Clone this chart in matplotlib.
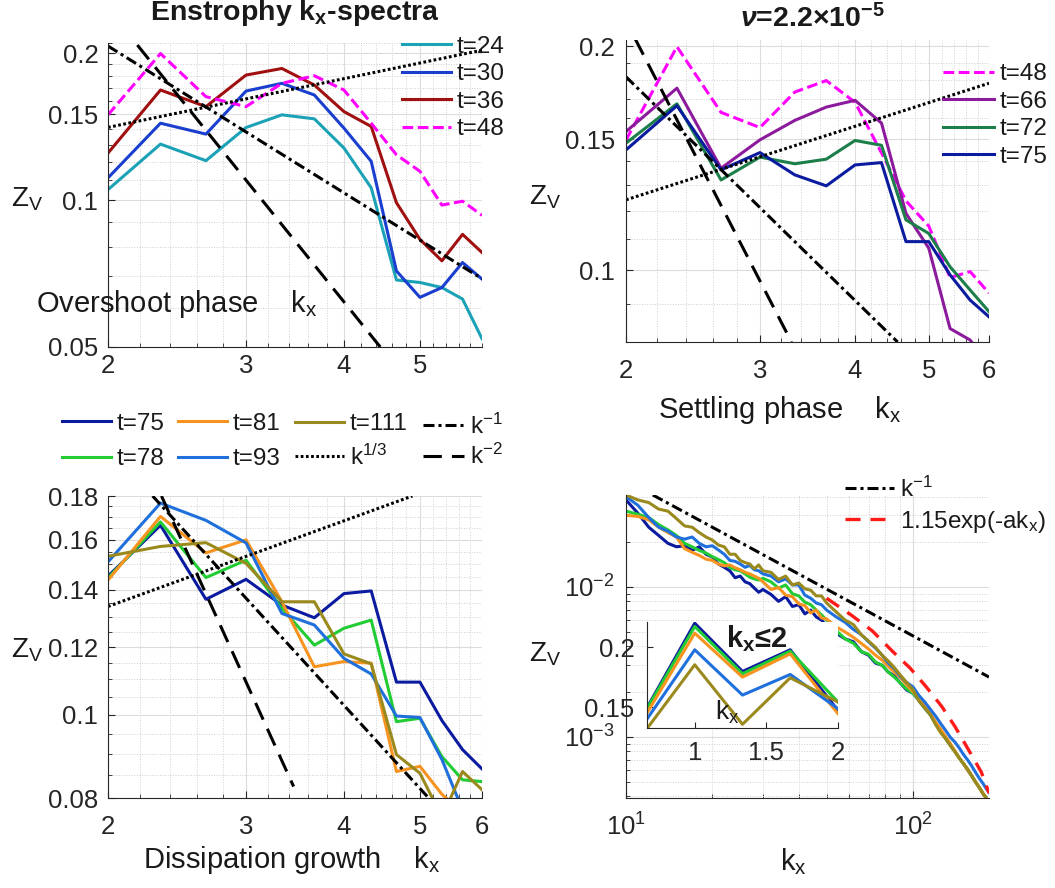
import matplotlib
matplotlib.use("Agg")
import matplotlib.pyplot as plt
from matplotlib.ticker import NullFormatter
import numpy as np

plt.rcParams["font.family"] = ["Liberation Sans", "DejaVu Sans"]
plt.rcParams["mathtext.fontset"] = "custom"
plt.rcParams["mathtext.rm"] = "Liberation Sans"
plt.rcParams["mathtext.it"] = "Liberation Sans:italic:bold"
plt.rcParams["mathtext.bf"] = "Liberation Sans:bold"
plt.rcParams["text.color"] = "#1a1a1a"

# ---------------- data ----------------
# low-k part of the spectra, k_x = n/3
kx = [2, 7/3, 8/3, 3, 10/3, 11/3, 4, 13/3, 14/3, 5, 16/3, 17/3, 6]

# overshoot phase
z_t24 = [0.1051, 0.1303, 0.1205, 0.1409, 0.1496, 0.1468, 0.1279, 0.106, 0.0686, 0.0678, 0.0662, 0.0627, 0.0520]
z_t30 = [0.1111, 0.1438, 0.1366, 0.1674, 0.1736, 0.1643, 0.1405, 0.1201, 0.0716, 0.0632, 0.0662, 0.0745, 0.0689]
z_t36 = [0.1249, 0.1682, 0.1555, 0.1805, 0.1862, 0.1722, 0.1519, 0.1416, 0.0988, 0.0831, 0.0751, 0.0851, 0.0781]
z_t48 = [0.1496, 0.1998, 0.1630, 0.1555, 0.1736, 0.1799, 0.1682, 0.1438, 0.1239, 0.1146, 0.0977, 0.0995, 0.0931]
# settling phase
z_t66 = [0.1536, 0.1757, 0.1371, 0.1497, 0.1590, 0.1657, 0.1692, 0.1577, 0.1192, 0.1070, 0.0834, 0.0805, 0.0745]
z_t72 = [0.1482, 0.1674, 0.1322, 0.1419, 0.1390, 0.1410, 0.1494, 0.1472, 0.1168, 0.1120, 0.1010, 0.0940, 0.0879]
z_t75 = [0.1451, 0.1664, 0.1364, 0.1439, 0.1343, 0.1298, 0.1385, 0.1395, 0.1092, 0.1092, 0.0985, 0.0911, 0.0865]
# dissipation growth
z_t78 = [0.1444, 0.1679, 0.1446, 0.1515, 0.1331, 0.1206, 0.1262, 0.1290, 0.0982, 0.0991, 0.0894, 0.0840, 0.0836]
z_t81 = [0.1436, 0.1704, 0.1545, 0.1600, 0.1355, 0.1138, 0.1154, 0.1149, 0.0859, 0.0871, 0.0808, 0.0770, 0.0750]
z_t93 = [0.1508, 0.1766, 0.1686, 0.1587, 0.1313, 0.1273, 0.1164, 0.1116, 0.0997, 0.0993, 0.0887, 0.0775, 0.0740]
z_t111 = [0.1531, 0.1572, 0.1588, 0.1502, 0.1355, 0.1355, 0.1178, 0.1147, 0.0899, 0.0855, 0.0760, 0.0859, 0.0818]

# full spectra (values in units of 1e-3)
k_full = [10, 11, 12, 13, 14, 15, 16, 17, 18, 19, 20, 21, 22, 23, 24, 25, 26, 27, 28, 29, 30,
          32, 34, 36, 38, 40, 42, 44, 46, 48, 50,
          54, 58, 62, 66, 70, 74, 78, 82, 86, 90,
          95, 100, 105, 110, 115, 120, 125, 130, 135, 140, 145, 150, 155, 160, 165, 170, 175, 180, 185]
zf_t75 = [38, 31, 25, 22, 19.5, 18.5, 18.8, 17.5, 18.5, 16.5, 15.8, 14.2, 13.5, 12.8, 11.5, 11.8, 10.8, 10.5, 9.8, 9.2, 9.6,
          8.9, 8.0, 8.6, 7.4, 7.6, 6.6, 7.0, 6.3, 6.0, 5.5,
          4.9, 4.5, 4.3, 3.7, 3.5, 3.1, 3.0, 2.7, 2.55, 2.3,
          2.05, 1.95, 1.75, 1.55, 1.4, 1.22, 1.1, 0.97, 0.88, 0.8, 0.72, 0.66, 0.6, 0.55, 0.5, 0.46, 0.42, 0.39, 0.36]
zf_t78 = [32, 30.5, 29, 26, 24, 22, 19.5, 18.5, 17.5, 16.8, 15.9, 15.2, 14.5, 13.5, 13, 12.8, 12.2, 11.6, 11.3, 11.1, 11.4,
          10.8, 9.8, 10.3, 9.0, 8.7, 7.9, 7.6, 7.0, 6.5, 6.0,
          5.1, 4.5, 4.2, 3.7, 3.55, 3.15, 3.0, 2.7, 2.5, 2.3,
          2.08, 1.95, 1.75, 1.55, 1.4, 1.22, 1.1, 0.97, 0.88, 0.8, 0.72, 0.66, 0.6, 0.55, 0.5, 0.46, 0.42, 0.39, 0.36]
zf_t81 = [30, 29.5, 28, 25, 23, 21.5, 18, 17, 16.2, 15.3, 15, 14.2, 13.8, 14, 13.4, 13, 12.5, 12.2, 11.8, 11.4, 10.8,
          9.6, 9.9, 8.8, 8.6, 7.7, 7.5, 6.7, 7.0, 6.2, 6.1,
          5.4, 5.0, 4.6, 4.2, 3.85, 3.5, 3.25, 2.95, 2.7, 2.5,
          2.22, 2.0, 1.8, 1.6, 1.42, 1.25, 1.12, 1.0, 0.9, 0.8, 0.72, 0.66, 0.6, 0.55, 0.5, 0.46, 0.42, 0.39, 0.36]
zf_t93 = [40, 35, 29, 25, 23.5, 21.5, 20.8, 21.5, 19.5, 18.5, 18.8, 17.6, 16.5, 15, 14.8, 14.2, 13.5, 13.9, 13.0, 12.8, 12.2,
          11.8, 10.8, 11.3, 10.3, 10.3, 8.8, 8.4, 7.8, 7.6, 7.0,
          6.3, 5.8, 5.2, 4.8, 4.3, 3.9, 3.5, 3.1, 2.85, 2.55,
          2.3, 2.15, 1.88, 1.7, 1.52, 1.37, 1.22, 1.1, 0.99, 0.92, 0.84, 0.76, 0.7, 0.64, 0.58, 0.53, 0.49, 0.45, 0.42]
zf_t111 = [41, 38, 36.5, 33, 32, 28.5, 25.5, 25, 23, 21.5, 20.5, 19, 18.5, 16.5, 16.5, 15, 14.5, 14.2, 13.2, 14, 12.8,
           12.5, 11.2, 11.8, 10.3, 10.6, 9.7, 9.5, 8.7, 8.7, 7.8,
           6.8, 6.0, 5.6, 4.8, 4.35, 3.95, 3.5, 3.2, 2.9, 2.6,
           2.3, 2.06, 1.72, 1.55, 1.4, 1.2, 1.06, 0.97, 0.87, 0.79, 0.72, 0.66, 0.61, 0.55, 0.5, 0.46, 0.42, 0.39, 0.35]

# inset, k_x <= 2
k_in = [2/3, 1, 4/3, 5/3, 2]
zi_t75 = [0.1494, 0.2200, 0.1797, 0.1978, 0.1472]
zi_t78 = [0.1486, 0.2172, 0.1778, 0.1967, 0.1542]
zi_t81 = [0.1450, 0.2117, 0.1750, 0.1944, 0.1444]
zi_t93 = [0.1400, 0.1978, 0.1600, 0.1772, 0.1486]
zi_t111 = [0.1320, 0.1853, 0.1356, 0.1744, 0.1542]

# reference slopes (end points)
tl_m1 = ([2, 6], [0.207, 0.069])
tl_m2 = ([2.18, 4.45], [0.208, 0.05])
tl_p13 = ([2, 6], [0.141, 0.203])
tr_m1 = ([2, 4.55], [0.182, 0.08])
tr_m2 = ([2.055, 3.30], [0.205, 0.08])
tr_p13 = ([2, 6], [0.1243, 0.1784])
bl_m1 = ([2.28, 5.13], [0.18, 0.08])
bl_m2 = ([2.34, 3.45], [0.18, 0.0825])
bl_p13 = ([2, 4.89], [0.1338, 0.18])
br_m1 = ([12.4, 184], [0.041, 0.0025])
exp_k = [50, 60.8, 72, 85, 97.7, 111, 126, 140, 156, 173, 184]
exp_z = [8.4e-3, 6.5e-3, 5.1e-3, 3.7e-3, 2.87e-3, 2.16e-3, 1.59e-3, 1.17e-3, 0.82e-3, 0.58e-3, 0.42e-3]

# ---------------- styles ----------------
C = {"t24": "#1ca2b6", "t30": "#1a3fcf", "t36": "#a01010", "t48": "#ff00ff",
     "t66": "#8c1a9c", "t72": "#1c7f4a", "t75": "#0b1ba0", "t78": "#22cc33",
     "t81": "#f7931e", "t93": "#1f70dc", "t111": "#9a8a1e"}
LW = 2.2
DASHDOT = dict(color="k", lw=LW, dashes=(3.6, 1.3, 1, 1.3))
DASHED = dict(color="k", lw=LW, dashes=(6, 3.3))
DOTTED = dict(color="k", lw=LW, dashes=(0.9, 0.8))
MAG = dict(color=C["t48"], lw=LW, dashes=(3.5, 1.5))
FS = 18.5
LFS = 17.5

W, H = 1055, 888
fig = plt.figure(figsize=(W / 100, H / 100), dpi=100)


def px_axes(l, t, r, b):
    return fig.add_axes([l / W, 1 - b / H, (r - l) / W, (b - t) / H])


def setup(ax, xlim, ylim, xt, xtl, yt, ytl, xminor=None, yminor=None, xpad=6, ypad=7):
    ax.set_xscale("log")
    ax.set_yscale("log")
    ax.set_xlim(xlim)
    ax.set_ylim(ylim)
    ax.set_xticks(xt, labels=xtl)
    ax.set_yticks(yt, labels=ytl)
    if xminor is not None:
        ax.set_xticks(xminor, minor=True)
    if yminor is not None:
        ax.set_yticks(yminor, minor=True)
    ax.xaxis.set_minor_formatter(NullFormatter())
    ax.yaxis.set_minor_formatter(NullFormatter())
    ax.grid(which="major", color="#dcdcdc", lw=0.8)
    ax.grid(which="minor", color="#cfcfcf", lw=0.7, ls=":")
    ax.set_axisbelow(True)
    for s in ["top", "right"]:
        ax.spines[s].set_visible(False)
    for s in ["left", "bottom"]:
        ax.spines[s].set_color("#262626")
        ax.spines[s].set_linewidth(0.8)
    ax.tick_params(which="both", direction="in", colors="#262626", labelsize=FS)
    ax.tick_params(which="major", length=5)
    ax.tick_params(which="minor", length=3)
    ax.tick_params(axis="x", pad=xpad)
    ax.tick_params(axis="y", pad=ypad)


def legend(handles, labels, x, y, hl=2.0, ls=0.22):
    fig.legend(handles, labels, loc="center left", bbox_to_anchor=(x / W, 1 - y / H),
               frameon=False, borderpad=0, borderaxespad=0, fontsize=LFS,
               handlelength=hl, handletextpad=0.25, labelspacing=ls)


def ftext(x, y, s, **kw):
    fig.text(x / W, 1 - y / H, s, fontsize=kw.pop("fontsize", 21), **kw)


xminor = np.arange(2, 6.01, 0.2)
ZV = r"Z$_{\mathregular{V}}$"
KX = r"k$_{\mathregular{x}}$"

# ---- top left: overshoot phase ----
ax1 = px_axes(108, 43, 482, 347)
h24, = ax1.plot(kx, z_t24, color=C["t24"], lw=LW)
h30, = ax1.plot(kx, z_t30, color=C["t30"], lw=LW)
h36, = ax1.plot(kx, z_t36, color=C["t36"], lw=LW)
h48, = ax1.plot(kx, z_t48, **MAG)
ax1.plot(*tl_m1, **DASHDOT)
ax1.plot(*tl_m2, **DASHED)
ax1.plot(*tl_p13, **DOTTED)
setup(ax1, (2, 6), (0.05, 0.208), [2, 3, 4, 5], ["2", "3", "4", "5"],
      [0.05, 0.1, 0.15, 0.2], ["0.05", "0.1", "0.15", "0.2"],
      xminor, np.arange(0.05, 0.211, 0.01), xpad=5)
legend([h24, h30, h36, h48], ["t=24", "t=30", "t=36", "t=48"], 402, 88)

# ---- top right: settling phase ----
ax2 = px_axes(626, 40, 989, 342)
g48, = ax2.plot(kx, z_t48, **MAG)
g66, = ax2.plot(kx, z_t66, color=C["t66"], lw=LW)
g72, = ax2.plot(kx, z_t72, color=C["t72"], lw=LW)
g75, = ax2.plot(kx, z_t75, color=C["t75"], lw=LW)
ax2.plot(*tr_m1, **DASHDOT)
ax2.plot(*tr_m2, **DASHED)
ax2.plot(*tr_p13, **DOTTED)
setup(ax2, (2, 6), (0.08, 0.204), [2, 3, 4, 5, 6], ["2", "3", "4", "5", "6"],
      [0.1, 0.15, 0.2], ["0.1", "0.15", "0.2"],
      xminor, np.arange(0.08, 0.205, 0.01), xpad=12, ypad=8)
legend([g48, g66, g72, g75], ["t=48", "t=66", "t=72", "t=75"], 943, 115.5, hl=2.1)

# ---- bottom left: dissipation growth ----
ax3 = px_axes(108, 496, 482, 798)
b75, = ax3.plot(kx, z_t75, color=C["t75"], lw=LW)
b78, = ax3.plot(kx, z_t78, color=C["t78"], lw=LW)
b81, = ax3.plot(kx, z_t81, color=C["t81"], lw=LW)
b93, = ax3.plot(kx, z_t93, color=C["t93"], lw=LW)
b111, = ax3.plot(kx, z_t111, color=C["t111"], lw=LW)
r1, = ax3.plot(*bl_m1, **DASHDOT)
r2, = ax3.plot(*bl_m2, **DASHED)
r3, = ax3.plot(*bl_p13, **DOTTED)
setup(ax3, (2, 6), (0.08, 0.18), [2, 3, 4, 5, 6], ["2", "3", "4", "5", "6"],
      [0.08, 0.1, 0.12, 0.14, 0.16, 0.18], ["0.08", "0.1", "0.12", "0.14", "0.16", "0.18"],
      xminor, np.arange(0.08, 0.181, 0.005), xpad=12)
legend([b75, b78], ["t=75", "t=78"], 62, 441.5, ls=0.55)
legend([b81, b93], ["t=81", "t=93"], 178, 441.5, ls=0.55)
legend([b111, r3], ["t=111", r"k$^{\mathregular{1/3}}$"], 295, 441.5, ls=0.38)
legend([r1, r2], [r"k$^{\mathregular{-1}}$", r"k$^{\mathregular{-2}}$"], 423, 441.5, hl=1.7, ls=0.22)

# ---- bottom right: full spectra ----
ax4 = px_axes(626, 495, 989, 798)
full = [(zf_t75, "t75"), (zf_t78, "t78"), (zf_t81, "t81"), (zf_t93, "t93"), (zf_t111, "t111")]
for z, key in full:
    ax4.plot(k_full, np.array(z) * 1e-3, color=C[key], lw=LW)
e1, = ax4.plot(*br_m1, **DASHDOT)
e2, = ax4.plot(exp_k, exp_z, color="#ff1a1a", lw=2.4, dashes=(4.5, 3))
setup(ax4, (10, 184), (3.9e-4, 0.041), [10, 100], [r"10$^{1}$", r"10$^{2}$"],
      [1e-3, 1e-2], [r"10$^{-3}$", r"10$^{-2}$"], xpad=11, ypad=8)
legend([e1, e2], [r"k$^{\mathregular{-1}}$", r"1.15exp(-ak$_{\mathregular{x}}$)"], 845, 505.5,
       hl=2.0, ls=0.3)

# inset
ax5 = px_axes(647, 622, 838, 728)
ax5.set_facecolor("white")
ins = [(zi_t75, "t75"), (zi_t78, "t78"), (zi_t81, "t81"), (zi_t93, "t93"), (zi_t111, "t111")]
for z, key in ins:
    ax5.plot(k_in, z, color=C[key], lw=LW)
ax5.set_xlim(2 / 3, 2)
ax5.set_ylim(0.1325, 0.221)
ax5.set_xticks([1, 1.5, 2], labels=["1", "1.5", "2"])
ax5.set_yticks([0.15, 0.2], labels=["0.15", "0.2"])
for s in ["top", "right"]:
    ax5.spines[s].set_visible(False)
for s in ["left", "bottom"]:
    ax5.spines[s].set_color("#262626")
    ax5.spines[s].set_linewidth(0.8)
ax5.tick_params(direction="in", colors="#262626", labelsize=FS, length=4)
ax5.tick_params(axis="x", pad=9)
ax5.tick_params(axis="y", pad=9)
ax5.text(1.14, 0.1395, KX, fontsize=19)
ax5.text(1.43, 0.207, r"k$_{\mathbf{x}}$≤2", fontsize=21, weight="bold", ha="center", va="center")

# ---------------- labels ----------------
ftext(295, 13, r"Enstrophy k$_{\mathbf{x}}$-spectra", fontsize=20.5, weight="bold", ha="center", va="center")
ftext(812, 19, r"$\nu$=2.2×10$^{\mathbf{-5}}$", fontsize=20.5, weight="bold", ha="center", va="center")

ftext(27, 199, ZV, fontsize=20, ha="center", va="center")
ftext(545, 197, ZV, fontsize=20, ha="center", va="center")
ftext(27, 650, ZV, fontsize=20, ha="center", va="center")
ftext(545, 654, ZV, fontsize=20, ha="center", va="center")

ftext(36, 312, "Overshoot phase    " + KX, ha="left", va="baseline")
ftext(658, 418, "Settling phase    " + KX, ha="left", va="baseline")
ftext(143, 868, "Dissipation growth    " + KX, ha="left", va="baseline")
ftext(780, 870, KX, ha="left", va="baseline")

fig.savefig("out.png", dpi=100)
